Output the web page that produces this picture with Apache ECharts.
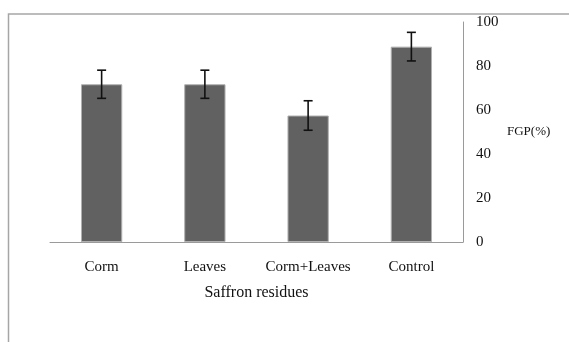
<!DOCTYPE html>
<html>
<head>
<meta charset="utf-8">
<script src="https://cdn.jsdelivr.net/npm/echarts@6/dist/echarts.min.js"></script>
<style>
html,body{margin:0;padding:0;background:#fff;}
#chart{width:569px;height:342px;}
</style>
</head>
<body>
<div id="chart"></div>
<script>
const categories = ['Corm', 'Leaves', 'Corm+Leaves', 'Control'];
const fgpValues = [71.7, 71.7, 57.5, 88.8];
const fgpErrors = [6.4, 6.4, 6.7, 6.5];
const yTicks = [0, 20, 40, 60, 80, 100];

const errData = categories.map((c, i) => [i, fgpValues[i] - fgpErrors[i], fgpValues[i] + fgpErrors[i]]);
const font = 'Liberation Serif, Times New Roman, serif';

const chart = echarts.init(document.getElementById('chart'), null, {renderer: 'canvas'});
chart.setOption({
  animation: false,
  backgroundColor: '#fff',
  graphic: [{
    type: 'rect',
    shape: {x: 8.5, y: 14, width: 700, height: 500},
    style: {fill: 'none', stroke: '#a6a6a6', lineWidth: 1.5},
    silent: true
  }],
  grid: {left: 50, right: 106, top: 22, bottom: 100, containLabel: false},
  xAxis: {
    type: 'category',
    data: categories,
    axisLine: {show: true, lineStyle: {color: '#9a9a9a', width: 1}},
    axisTick: {show: false},
    axisLabel: {interval: 0, fontFamily: font, fontSize: 15, color: '#111', margin: 18},
    name: 'Saffron residues',
    nameLocation: 'middle',
    nameGap: 43,
    nameTextStyle: {fontFamily: font, fontSize: 16, color: '#111'},
    splitLine: {show: false}
  },
  yAxis: {
    type: 'value',
    position: 'right',
    min: yTicks[0],
    max: yTicks[yTicks.length - 1],
    interval: yTicks[1] - yTicks[0],
    axisLine: {show: true, lineStyle: {color: '#9a9a9a', width: 1}},
    axisTick: {show: false},
    splitLine: {show: false},
    axisLabel: {fontFamily: font, fontSize: 15, color: '#111', margin: 13},
    name: 'FGP(%)',
    nameLocation: 'middle',
    nameRotate: 0,
    nameGap: 44,
    nameTextStyle: {fontFamily: font, fontSize: 13, color: '#111', align: 'left'}
  },
  series: [{
    type: 'bar',
    data: fgpValues,
    barWidth: '40%',
    itemStyle: {color: '#616161', borderColor: '#b0b0b0', borderWidth: 1}
  }, {
    type: 'custom',
    data: errData,
    z: 10,
    renderItem: function (params, api) {
      const x = api.value(0);
      const lo = api.coord([x, api.value(1)]);
      const hi = api.coord([x, api.value(2)]);
      const cap = 4.5;
      const st = {stroke: '#111', lineWidth: 1.6};
      return {
        type: 'group',
        children: [
          {type: 'line', shape: {x1: hi[0], y1: hi[1], x2: lo[0], y2: lo[1]}, style: st},
          {type: 'line', shape: {x1: hi[0] - cap, y1: hi[1], x2: hi[0] + cap, y2: hi[1]}, style: st},
          {type: 'line', shape: {x1: lo[0] - cap, y1: lo[1], x2: lo[0] + cap, y2: lo[1]}, style: st}
        ]
      };
    }
  }]
});
</script>
</body>
</html>
